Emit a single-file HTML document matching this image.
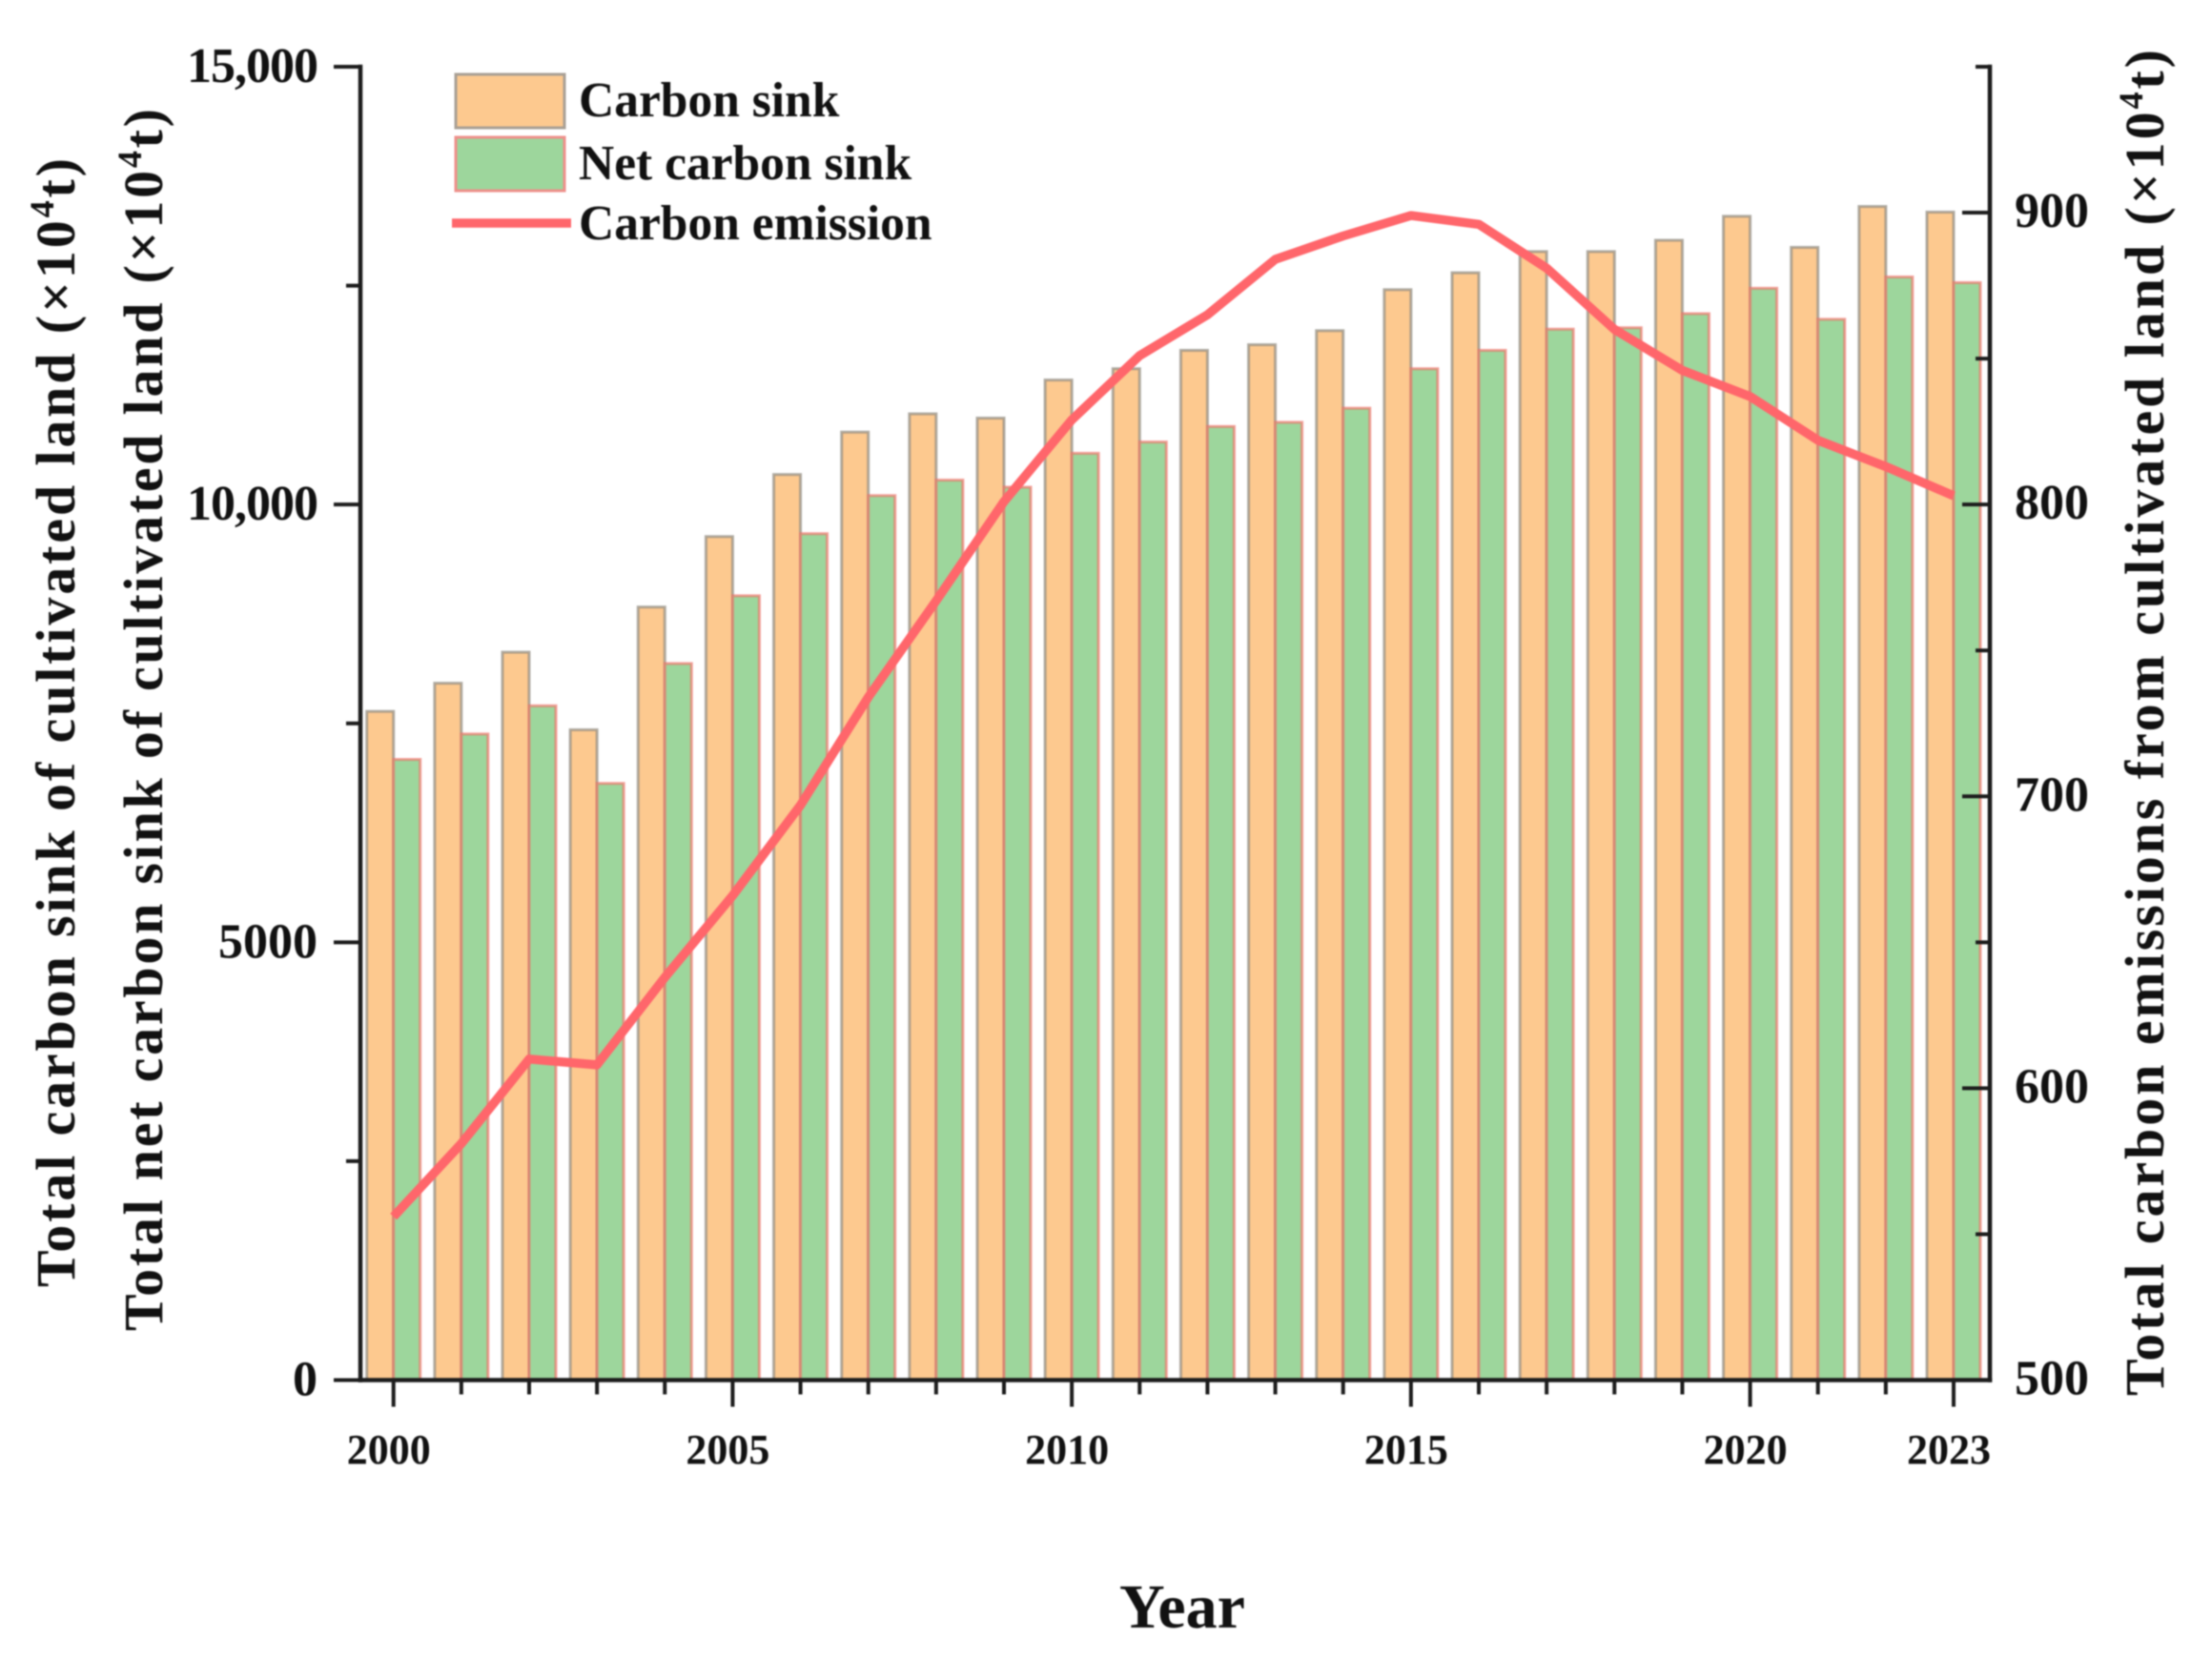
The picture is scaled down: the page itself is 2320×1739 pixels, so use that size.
<!DOCTYPE html>
<html lang="en">
<head>
<meta charset="utf-8">
<title>Carbon sink and emission of cultivated land</title>
<style>
html,body{margin:0;padding:0;background:#fff;width:2320px;height:1739px;overflow:hidden}
svg{display:block;filter:blur(0.7px)}
text{font-family:"Liberation Serif",serif;font-weight:bold;fill:#111}
</style>
</head>
<body>
<svg id="chart" xmlns="http://www.w3.org/2000/svg" width="2320" height="1739" viewBox="0 0 2320 1739">
  <g id="bars"></g>
  <polyline id="emission-line" fill="none" stroke="#ff666b" stroke-width="9.5" stroke-linejoin="round" stroke-linecap="butt"></polyline>
  <g id="axes"></g>
  <g id="tick-labels"></g>

  <text transform="translate(78,1350) rotate(-90)" font-size="58" textLength="1184">Total carbon sink of cultivated land (×10<tspan font-size="36" dy="-22">4</tspan><tspan dy="22">t)</tspan></text>
  <text transform="translate(170,1396) rotate(-90)" font-size="58" textLength="1282">Total net carbon sink of cultivated land (×10<tspan font-size="36" dy="-22">4</tspan><tspan dy="22">t)</tspan></text>
  <text transform="translate(2269,1464) rotate(-90)" font-size="58" textLength="1412">Total carbon emissions from cultivated land (×10<tspan font-size="36" dy="-22">4</tspan><tspan dy="22">t)</tspan></text>
  <text x="1240" y="1707" font-size="66" text-anchor="middle">Year</text>

  <g>
    <g>
      <rect x="478" y="78" width="114" height="56" fill="#fdc98f" stroke="#a89f94" stroke-width="3"></rect>
      <text x="607" y="122" font-size="51.5">Carbon sink</text>
    </g>
    <g>
      <rect x="478" y="144" width="114" height="56" fill="#9dd69c" stroke="#ee8f8a" stroke-width="3"></rect>
      <text x="607" y="188" font-size="51.5">Net carbon sink</text>
    </g>
    <g>
      <line x1="474" y1="234" x2="599" y2="234" stroke="#ff666b" stroke-width="9.5"></line>
      <text x="607" y="251" font-size="51.5">Carbon emission</text>
    </g>
  </g>
</svg>
<script>
const years = [2000,2001,2002,2003,2004,2005,2006,2007,2008,2009,2010,2011,2012,2013,2014,2015,2016,2017,2018,2019,2020,2021,2022,2023];
const carbonSink = [7637,7959,8313,7427,8829,9634,10343,10827,11036,10987,11422,11551,11761,11825,11986,12454,12647,12889,12889,13018,13292,12937,13404,13340];
const netCarbonSink = [7089,7379,7701,6815,8184,8958,9667,10102,10279,10198,10585,10714,10891,10939,11100,11551,11761,12003,12019,12180,12470,12116,12599,12534];
const carbonEmission = [556,581,610,608,638,666,697,734,767,801,829,851,865,884,892,899,896,881,860,846,837,822,813,803];
const leftMajorTicks = [0,5000,10000,15000];
const leftMinorTicks = [2500,7500,12500];
const leftTickLabels = ["0","5000","10,000","15,000"];
const rightMajorTicks = [500,600,700,800,900];
const rightMinorTicks = [550,650,750,850,950];
const rightTickLabels = ["500","600","700","800","900"];
const xMajorTicks = [2000,2005,2010,2015,2020,2023];
const xTickLabels = ["2000","2005","2010","2015","2020","2023"];

const NS = 'http://www.w3.org/2000/svg';
const plot = {left:378, right:2087, top:70, bottom:1447.5};
const barWidth = 28;
function xScale(year){ return 412.7 + (year - 2000) * (2049 - 412.7) / 23; }
function yLeft(v){ return plot.bottom - v * (plot.bottom - plot.top) / 15000; }
function yRight(v){ return plot.bottom - (v - 500) * (plot.bottom - plot.top) / 450; }

function make(tag, attrs, parent){
  const el = document.createElementNS(NS, tag);
  for (const k in attrs) el.setAttribute(k, attrs[k]);
  parent.appendChild(el);
  return el;
}

const barsG = document.getElementById('bars');
years.forEach(function(year, i){
  const x = xScale(year);
  const sinkTop = yLeft(carbonSink[i]);
  const netTop = yLeft(netCarbonSink[i]);
  const sink = make('rect', {x:x-barWidth, y:sinkTop, width:barWidth, height:plot.bottom-sinkTop, fill:'#fdc98f', stroke:'#8f8a80', 'stroke-opacity':0.7, 'stroke-width':3}, barsG);
  
  
  const net = make('rect', {x:x, y:netTop, width:barWidth, height:plot.bottom-netTop, fill:'#9dd69c', stroke:'#ee6f66', 'stroke-opacity':0.65, 'stroke-width':3}, barsG);
  
  
});

const linePoints = years.map(function(year, i){
  return xScale(year).toFixed(1) + ',' + yRight(carbonEmission[i]).toFixed(1);
}).join(' ');
document.getElementById('emission-line').setAttribute('points', linePoints);

const axesG = document.getElementById('axes');
const axisColor = '#1c1c1c';
function axisLine(x1, y1, x2, y2, w){
  return make('line', {x1:x1, y1:y1, x2:x2, y2:y2, stroke:axisColor, 'stroke-width':w, 'stroke-linecap':'square'}, axesG);
}
const leftAxis = axisLine(plot.left, plot.top, plot.left, plot.bottom, 4.5);


const rightAxis = axisLine(plot.right, plot.top, plot.right, plot.bottom, 4.5);


const bottomAxis = axisLine(plot.left, plot.bottom, plot.right, plot.bottom, 4.5);



leftMajorTicks.forEach(function(v){
  const t = axisLine(plot.left-26, yLeft(v), plot.left, yLeft(v), 4);
  
  
});
leftMinorTicks.forEach(function(v){
  const t = axisLine(plot.left-13, yLeft(v), plot.left, yLeft(v), 4);
  
  
});
rightMajorTicks.forEach(function(v){
  const t = axisLine(plot.right-27, yRight(v), plot.right, yRight(v), 4);
  
  
});
rightMinorTicks.forEach(function(v){
  const t = axisLine(plot.right-13, yRight(v), plot.right, yRight(v), 4);
  
  
});
years.forEach(function(year){
  const major = xMajorTicks.indexOf(year) >= 0;
  const t = axisLine(xScale(year), plot.bottom, xScale(year), plot.bottom + (major ? 26 : 13), 4);
  
  
});

const labelsG = document.getElementById('tick-labels');
leftMajorTicks.forEach(function(v, i){
  const t = make('text', {x:333, y:yLeft(v)+16, 'font-size':52, 'text-anchor':'end', 'letter-spacing':v > 5000 ? '-1' : '0'}, labelsG);
  t.textContent = leftTickLabels[i];
  
  
});
rightMajorTicks.forEach(function(v, i){
  const t = make('text', {x:2113, y:yRight(v)+15, 'font-size':52}, labelsG);
  t.textContent = rightTickLabels[i];
  
  
});
xMajorTicks.forEach(function(year, i){
  const t = make('text', {x:xScale(year)-5, y:1535, 'font-size':44, 'text-anchor':'middle'}, labelsG);
  t.textContent = xTickLabels[i];
  
  
});
</script>
</body>
</html>
